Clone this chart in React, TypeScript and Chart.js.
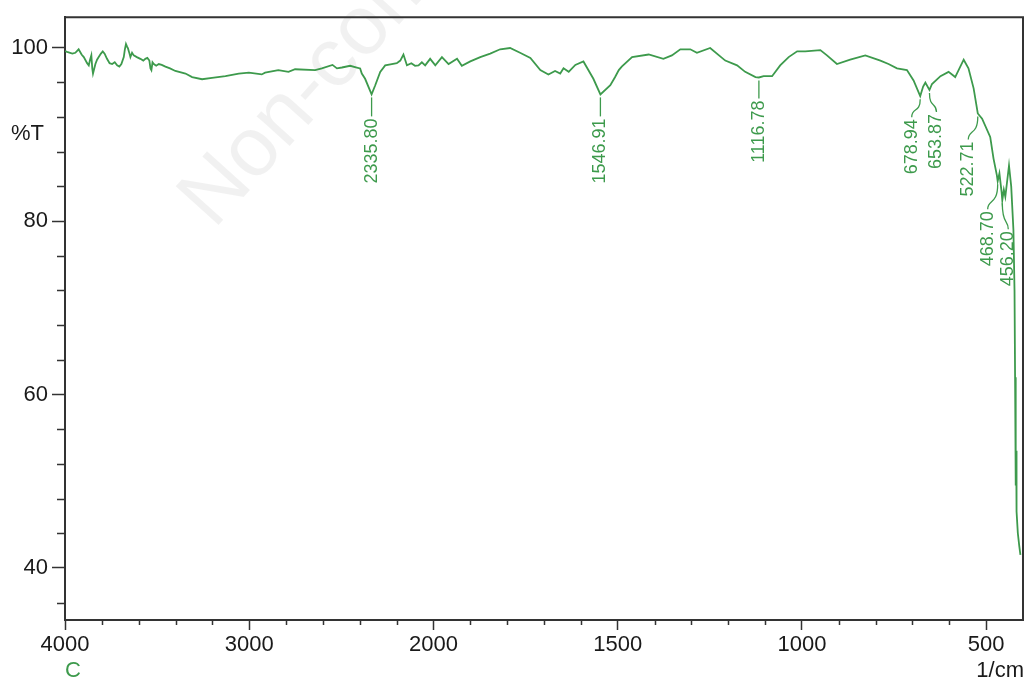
import React, { useEffect, useRef } from 'react';
import { Chart, registerables, LinearScale } from 'chart.js';

// ---------------- data ----------------
const WAVENUMBER = [
  4000, 3989, 3960, 3944, 3926, 3910, 3898, 3880, 3871, 3864, 3857, 3852, 3848, 3835, 3826, 3817, 3805, 3795, 3785,
  3772, 3758, 3744, 3730, 3717, 3705, 3694, 3681, 3675, 3669, 3663, 3658, 3650, 3645, 3636, 3627, 3610, 3591, 3575,
  3564, 3553, 3542, 3536, 3531, 3525, 3518, 3505, 3491, 3475, 3455, 3430, 3401, 3346, 3310, 3256, 3202, 3129, 3057,
  3002, 2932, 2914, 2842, 2787, 2751, 2642, 2606, 2548, 2524, 2497, 2452, 2416, 2398, 2389, 2371, 2335.8, 2316, 2289,
  2262, 2226, 2199, 2180, 2163, 2144, 2120, 2100, 2081, 2063, 2045, 2018, 1995, 1977, 1959, 1936, 1923, 1900, 1873,
  1846, 1819, 1792, 1765, 1737, 1710, 1688, 1670, 1656, 1647, 1633, 1615, 1593, 1566, 1546.91, 1520, 1507, 1497, 1489,
  1461, 1416, 1376, 1353, 1330, 1303, 1285, 1249, 1208, 1176, 1154, 1126, 1116.78, 1104, 1081, 1059, 1036, 1013, 991,
  950, 932, 905, 869, 828, 787, 765, 742, 715, 697, 678.94, 671, 665, 653.87, 647, 624, 602, 584, 561, 548, 534,
  522.71, 511, 489, 480, 471, 468.7, 464, 458, 456.2, 452, 448, 438, 432, 426, 423, 421.5, 420.5, 420, 419.5, 419,
  418.5, 418, 417, 414, 410, 407,
];
const TRANSMITTANCE = [
  99.6, 99.5, 99.3, 99.4, 99.8, 99.2, 98.9, 98.2, 97.95, 98.6, 99.1, 97.6, 97.0, 98.1, 98.6, 98.9, 99.3, 99.56, 99.3,
  98.7, 98.2, 98.1, 98.3, 97.95, 97.8, 98.1, 98.9, 99.8, 100.4, 100.1, 99.9, 99.3, 98.9, 99.4, 99.1, 98.9, 98.7, 98.5,
  98.7, 98.8, 98.5, 97.6, 97.4, 98.3, 98.1, 97.9, 98.1, 98.0, 97.8, 97.6, 97.3, 97.0, 96.6, 96.35, 96.5, 96.7, 97.0,
  97.1, 96.9, 97.1, 97.4, 97.2, 97.5, 97.4, 97.6, 98.0, 97.6, 97.7, 97.9, 97.7, 97.6, 97.0, 96.4, 94.6, 95.65, 97.2,
  97.95, 98.1, 98.2, 98.5, 99.2, 97.95, 98.2, 97.9, 97.95, 98.3, 97.95, 98.7, 97.95, 98.9, 98.1, 98.7, 97.9, 98.4, 98.9,
  99.3, 99.8, 99.95, 99.4, 98.8, 97.4, 96.9, 97.3, 97.0, 97.6, 97.2, 98.0, 98.4, 96.4, 94.6, 95.65, 96.6, 97.4, 97.8,
  98.9, 99.2, 98.7, 99.1, 99.8, 99.8, 99.4, 99.95, 98.5, 97.95, 97.2, 96.6, 96.55, 96.7, 96.7, 97.95, 98.9, 99.56, 99.56,
  99.7, 99.1, 98.1, 98.6, 99.1, 98.5, 98.1, 97.6, 97.4, 96.2, 94.4, 95.5, 95.95, 95.1, 95.8, 96.7, 97.2, 96.6, 98.6, 97.6, 95.3,
  92.4, 91.8, 89.7, 87.2, 85.3, 84.6, 85.5, 83.3, 82.4, 83.6, 82.8, 86.4, 84.0, 79.0, 72.0, 62.0, 56.0, 50.0, 54.5, 49.5,
  53.5, 48.5, 46.5, 44.0, 42.5, 41.5,
];
const X_TICKS = [4000, 3000, 2000, 1500, 1000, 500];
const X_MINOR = [3800, 3600, 3400, 3200, 2800, 2600, 2400, 2200, 1900, 1800, 1700, 1600, 1400, 1300, 1200, 1100, 900, 800, 700, 600];
const Y_TICKS = [40, 60, 80, 100];
const Y_MINOR = [36, 44, 48, 52, 56, 64, 68, 72, 76, 84, 88, 92, 96];
const PEAK_X = [2335.8, 1546.91, 1116.78, 678.94, 653.87, 522.71, 468.7, 456.2];
const PEAK_T = [94.6, 94.6, 96.55, 94.4, 95.1, 92.4, 84.6, 82.4];
const PEAK_LABELS = ['2335.80', '1546.91', '1116.78', '678.94', '653.87', '522.71', '468.70', '456.20'];
const Y_TITLE = '%T';
const X_TITLE = '1/cm';
const SAMPLE = 'C';
const WATERMARK = 'Non-commercial';

// ---------------- styles ----------------
const GREEN = '#3d9a4c';
const AXIS = '#333333';
const FONT = '"Liberation Sans", Arial, sans-serif';
// label placement (pixel offsets: dx from peak, gap below peak)
const LABEL_PLACE = [
  { dx: 0, gap: 24 }, { dx: 0, gap: 24 }, { dx: 0, gap: 23 }, { dx: -8.5, gap: 23 },
  { dx: 7, gap: 24 }, { dx: -9.5, gap: 28 }, { dx: -10, gap: 30 }, { dx: 6, gap: 31 },
];

// wavenumber axis with 2x expansion below 2000 1/cm
const BREAK = 2000;
const fwd = (v: number) => (v > BREAK ? BREAK + (v - BREAK) / 2 : v);
const inv = (t: number) => (t > BREAK ? BREAK + (t - BREAK) * 2 : t);

class FtirScale extends LinearScale {
  static id = 'ftir';
  static defaults = {};
  getPixelForValue(value: number) {
    const a = fwd(this.max), b = fwd(this.min);
    return this.getPixelForDecimal((a - fwd(value)) / (a - b));
  }
  getValueForPixel(pixel: number) {
    const d = this.getDecimalForPixel(pixel);
    const a = fwd(this.max), b = fwd(this.min);
    return inv(a - d * (a - b));
  }
}

Chart.register(...registerables, FtirScale);

const decor = {
  id: 'decor',
  beforeDraw(chart: any) {
    const { ctx } = chart;
    ctx.save();
    ctx.translate(214, 230);
    ctx.rotate(-48 * Math.PI / 180);
    ctx.font = `84px ${FONT}`;
    ctx.fillStyle = 'rgba(0,0,0,0.055)';
    ctx.textBaseline = 'alphabetic';
    ctx.fillText(WATERMARK, 0, 0);
    ctx.restore();
  },
  afterDatasetsDraw(chart: any) {
    const { ctx, scales: { x, y } } = chart;
    ctx.save();
    ctx.strokeStyle = GREEN;
    ctx.fillStyle = GREEN;
    ctx.lineWidth = 1.3;
    ctx.font = `18px ${FONT}`;
    PEAK_X.forEach((px, i) => {
      const p = LABEL_PLACE[i];
      const x0 = x.getPixelForValue(px);
      const y0 = y.getPixelForValue(PEAK_T[i]);
      const lx = x0 + p.dx;
      const top = y0 + p.gap;
      ctx.beginPath();
      if (p.dx === 0) {
        ctx.moveTo(lx, y0 + 3);
        ctx.lineTo(lx, top - 2);
      } else {
        ctx.moveTo(x0, y0 + 3);
        ctx.bezierCurveTo(x0, top - 6, lx, top - 12, lx, top - 2);
      }
      ctx.stroke();
      ctx.save();
      ctx.translate(lx, top);
      ctx.rotate(-Math.PI / 2);
      ctx.textAlign = 'right';
      ctx.textBaseline = 'middle';
      ctx.fillText(PEAK_LABELS[i], 0, 0);
      ctx.restore();
    });
    ctx.restore();
  },
  afterDraw(chart: any) {
    const { ctx, chartArea: ca, scales: { x, y } } = chart;
    ctx.save();
    ctx.strokeStyle = AXIS;
    ctx.lineWidth = 2;
    ctx.beginPath();
    ctx.moveTo(ca.left - 1, ca.top);
    ctx.lineTo(ca.right, ca.top);
    ctx.lineTo(ca.right, ca.bottom + 1);
    ctx.stroke();
    ctx.lineWidth = 1.5;
    ctx.beginPath();
    X_MINOR.forEach((v) => {
      const px = Math.round(x.getPixelForValue(v)) + 0.5;
      ctx.moveTo(px, ca.bottom);
      ctx.lineTo(px, ca.bottom + 5);
    });
    Y_MINOR.forEach((v) => {
      const py = Math.round(y.getPixelForValue(v)) + 0.5;
      ctx.moveTo(ca.left, py);
      ctx.lineTo(ca.left - 8, py);
    });
    ctx.stroke();
    ctx.font = `22px ${FONT}`;
    ctx.fillStyle = '#1a1a1a';
    ctx.textBaseline = 'middle';
    ctx.textAlign = 'right';
    ctx.fillText(Y_TITLE, 44, y.getPixelForValue(90));
    ctx.fillText(X_TITLE, ca.right + 1, 671);
    ctx.fillStyle = GREEN;
    ctx.textAlign = 'left';
    ctx.fillText(SAMPLE, ca.left, 671);
    ctx.restore();
  },
};

export default function App() {
  const ref = useRef<HTMLCanvasElement | null>(null);
  useEffect(() => {
    const canvas = ref.current;
    if (!canvas) return;
    const tickFont = { family: FONT, size: 22 };
    const chart = new Chart(canvas, {
      type: 'line',
      data: {
        datasets: [
          {
            data: WAVENUMBER.map((w, i) => ({ x: w, y: TRANSMITTANCE[i] })),
            borderColor: GREEN,
            borderWidth: 1.8,
            pointRadius: 0,
            tension: 0,
            fill: false,
          },
        ],
      },
      options: {
        responsive: false,
        animation: false,
        devicePixelRatio: 1,
        layout: { padding: { left: 0, top: 15, right: 3, bottom: 0 } },
        plugins: { legend: { display: false }, tooltip: { enabled: false } },
        scales: {
          x: {
            type: 'ftir' as any,
            min: 400,
            max: 4000,
            afterBuildTicks: (s: any) => { s.ticks = X_TICKS.map((v) => ({ value: v })); },
            afterFit: (s: any) => { s.height = 63; },
            border: { display: true, color: AXIS, width: 2 },
            grid: { drawOnChartArea: false, drawTicks: true, tickLength: 10, color: AXIS, tickWidth: 1.5 },
            ticks: { font: tickFont, color: '#1a1a1a', padding: 2, maxRotation: 0, autoSkip: false, callback: (v: any) => String(v) },
          },
          y: {
            type: 'linear',
            min: 34,
            max: 103.5,
            afterBuildTicks: (s: any) => { s.ticks = Y_TICKS.map((v) => ({ value: v })); },
            afterFit: (s: any) => { s.width = 65; },
            border: { display: true, color: AXIS, width: 2 },
            grid: { drawOnChartArea: false, drawTicks: true, tickLength: 13, color: AXIS, tickWidth: 1.5 },
            ticks: { font: tickFont, color: '#1a1a1a', padding: 4, autoSkip: false, callback: (v: any) => String(v) },
          },
        },
      },
      plugins: [decor],
    });
    return () => chart.destroy();
  }, []);
  return (
    <div style={{ position: 'fixed', left: 0, top: 0, width: 1026, height: 683, background: '#fff' }}>
      <canvas ref={ref} width={1026} height={683} />
    </div>
  );
}
